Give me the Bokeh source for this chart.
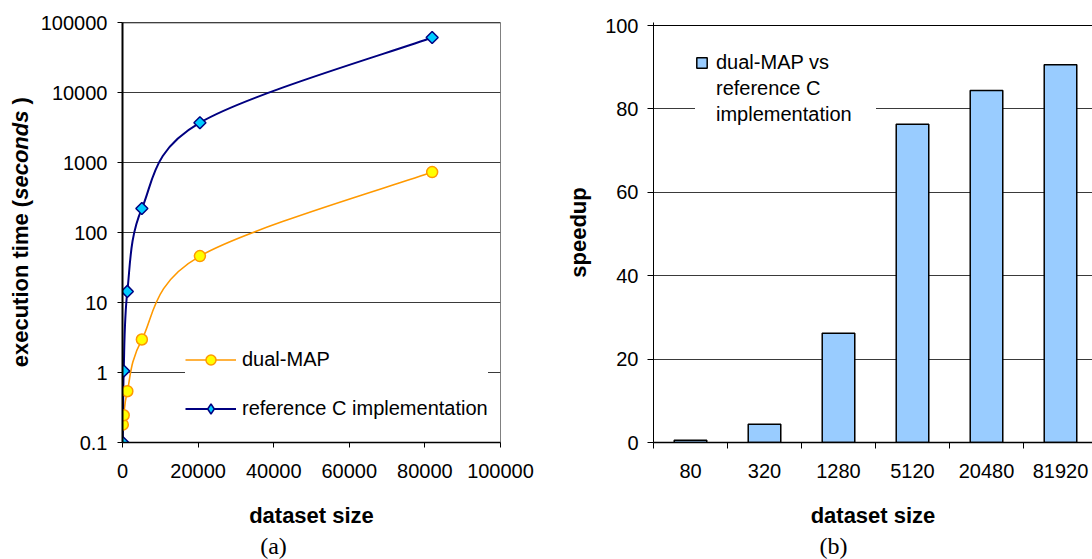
import math
from bokeh.plotting import figure
from bokeh.models import (FixedTicker, Legend, LegendItem, Span, Range1d, Title,
                          ColumnDataSource)
from bokeh.core.properties import value
from bokeh.layouts import row
from bokeh.embed import file_html
from bokeh.resources import INLINE

# ---------------- data ----------------
dataset_size = [80, 320, 1280, 5120, 20480, 81920]
dual_map_time = [0.18, 0.245, 0.54, 2.96, 46, 730]
ref_c_time = [0.1, 1.05, 14.4, 220, 3700, 61000]

speedup_categories = ["80", "320", "1280", "5120", "20480", "81920"]
speedup = [0.55, 4.4, 26.2, 76.3, 84.4, 90.6]

x_ticks_a = [0, 20000, 40000, 60000, 80000, 100000]
x_tick_labels_a = ["0", "20000", "40000", "60000", "80000", "100000"]
y_ticks_a = [0.1, 1, 10, 100, 1000, 10000, 100000]
y_tick_labels_a = ["0.1", "1", "10", "100", "1000", "10000", "100000"]
y_ticks_b = [0, 20, 40, 60, 80, 100]

FONT = "Liberation Sans"
SERIF = "Liberation Serif"
GRID = "#3a3a3a"
H = 559
TOP, BOTTOM = 22, 117
FRAME_H = H - TOP - BOTTOM          # 420 px

# ---------------- y title strip (left) ----------------
W_T = 34
pt = figure(width=W_T, height=H, x_range=Range1d(0, W_T), y_range=Range1d(0, FRAME_H),
            output_backend="svg", toolbar_location=None,
            x_axis_location=None, y_axis_location=None,
            min_border_left=0, min_border_right=0,
            min_border_top=TOP, min_border_bottom=BOTTOM)
pt.outline_line_color = None
pt.grid.visible = False
SEC_Y, SEC_W, MID_X = 242.7, 89.3, 20
for txt, style, yy, align in [("execution time (", "bold", SEC_Y, "right"),
                              ("seconds", "bold italic", SEC_Y, "left"),
                              ("\u00a0)", "bold", SEC_Y + SEC_W, "left")]:
    pt.text(x=[MID_X], y=[yy], text=[txt], angle=math.pi / 2, text_align=align,
            text_baseline="middle", text_font=value(FONT),
            text_font_size=value("22px"), text_font_style=style, text_color="black")

# ---------------- chart (a) ----------------
W_A = 526
LEFT_A = 88
FRAME_W_A = 378
pa = figure(width=W_A, height=H, x_range=Range1d(0, 100000),
            y_range=Range1d(0.1, 100000), y_axis_type="log",
            output_backend="svg", toolbar_location=None,
            min_border_left=LEFT_A, min_border_right=W_A - LEFT_A - FRAME_W_A,
            min_border_top=TOP, min_border_bottom=BOTTOM)
pa.outline_line_color = "#808080"
pa.outline_line_width = 1

ya_ticker = FixedTicker(ticks=y_ticks_a)
pa.yaxis.ticker = ya_ticker
pa.ygrid.ticker = ya_ticker
pa.yaxis.major_label_overrides = {t: l for t, l in zip(y_ticks_a, y_tick_labels_a)}
pa.xaxis.ticker = FixedTicker(ticks=x_ticks_a)
pa.xaxis.major_label_overrides = {t: l for t, l in zip(x_ticks_a, x_tick_labels_a)}
pa.xgrid.visible = False
pa.ygrid.grid_line_color = GRID
pa.ygrid.grid_line_width = 1

for ax in (pa.xaxis[0], pa.yaxis[0]):
    ax.axis_line_color = "black"
    ax.major_tick_line_color = "black"
    ax.major_tick_in = 0
    ax.major_tick_out = 5
    ax.minor_tick_line_color = None
    ax.major_label_text_font = FONT
    ax.major_label_text_font_size = "20px"
    ax.major_label_text_color = "black"
    ax.axis_label_text_font = FONT
    ax.axis_label_text_font_size = "22px"
    ax.axis_label_text_font_style = "bold"
    ax.axis_label_text_color = "black"
pa.yaxis.axis_line_width = 2
pa.xaxis.axis_line_width = 1.5
pa.yaxis.major_label_standoff = 10
pa.xaxis.major_label_standoff = 16
pa.xaxis.axis_label = "dataset size"
pa.xaxis.axis_label_standoff = 22

pa.add_layout(Span(location=100000, dimension="width", line_color="black", line_width=1.5))


def smooth_segments(xs, ys, x_span, px_w, px_dec):
    """Bezier control points (screen-proportional, Excel-like smoothing)."""
    u = [x / x_span * px_w for x in xs]
    v = [math.log10(y) * px_dec for y in ys]
    n = len(u)
    s = dict(x0=[], y0=[], x1=[], y1=[], cx0=[], cy0=[], cx1=[], cy1=[])
    for i in range(n - 1):
        ip, inx = max(i - 1, 0), min(i + 2, n - 1)
        c0u = u[i] + (u[i + 1] - u[ip]) / 6
        c0v = v[i] + (v[i + 1] - v[ip]) / 6
        c1u = u[i + 1] - (u[inx] - u[i]) / 6
        c1v = v[i + 1] - (v[inx] - v[i]) / 6
        s["x0"].append(xs[i]); s["y0"].append(ys[i])
        s["x1"].append(xs[i + 1]); s["y1"].append(ys[i + 1])
        s["cx0"].append(c0u / px_w * x_span); s["cy0"].append(10 ** (c0v / px_dec))
        s["cx1"].append(c1u / px_w * x_span); s["cy1"].append(10 ** (c1v / px_dec))
    return s


DEC_PX = FRAME_H / 6.0
ORANGE, NAVY = "#FF9900", "#000080"
seg_d = smooth_segments(dataset_size, dual_map_time, 100000, FRAME_W_A, DEC_PX)
seg_r = smooth_segments(dataset_size, ref_c_time, 100000, FRAME_W_A, DEC_PX)
dual_curve = pa.bezier(line_color=ORANGE, line_width=1.6, **seg_d)
ref_curve = pa.bezier(line_color=NAVY, line_width=2, **seg_r)

dual_pts = pa.scatter(dataset_size, dual_map_time, marker="circle", size=11,
                      fill_color="#FFFF00", line_color=ORANGE, line_width=1.5)
# diamond drawn under the rotated squares (gives the legend its diamond glyph)
ref_diam = pa.scatter(dataset_size, ref_c_time, marker="diamond", size=9,
                      fill_color="#00CCFF", line_color=NAVY, line_width=1.5)
ref_pts = pa.scatter(dataset_size, ref_c_time, marker="square", angle=math.pi / 4,
                     size=8.5, fill_color="#00CCFF", line_color=NAVY, line_width=1.5)

leg_a = Legend(items=[
    LegendItem(label="dual-MAP", renderers=[dual_curve, dual_pts]),
    LegendItem(label="reference C implementation", renderers=[ref_curve, ref_diam]),
], location=(63, 21), orientation="vertical", glyph_width=51, glyph_height=25,
    label_height=25, spacing=24, padding=0, label_standoff=6, margin=0,
    label_text_font=FONT, label_text_font_size="20px", label_text_color="black",
    background_fill_color="white", background_fill_alpha=1.0, border_line_color=None)
pa.add_layout(leg_a)

pa.add_layout(Title(text="(a)", align="left", offset=137.7, standoff=0,
                    vertical_align="bottom",
                    text_font=SERIF, text_font_size="24px", text_font_style="normal",
                    text_color="black"), "below")

# ---------------- chart (b) ----------------
W_B = 532
CAT_PX = 74
LEFT_B = 93
FRAME_W_B = W_B - LEFT_B
PX_PER_100 = 417           # 100 % line sits 3 px below the frame top
n_cat = len(speedup_categories)
centers = [i + 0.5 for i in range(n_cat)]
bounds = list(range(n_cat + 1))

pb = figure(width=W_B, height=H, x_range=Range1d(0, FRAME_W_B / CAT_PX),
            y_range=Range1d(0, 100 * FRAME_H / PX_PER_100),
            output_backend="svg", toolbar_location=None,
            min_border_left=LEFT_B, min_border_right=0,
            min_border_top=TOP, min_border_bottom=BOTTOM)
pb.outline_line_color = None
pb.xgrid.visible = False
yb_ticker = FixedTicker(ticks=y_ticks_b)
pb.yaxis.ticker = yb_ticker
pb.ygrid.ticker = yb_ticker
pb.ygrid.grid_line_color = GRID
pb.ygrid.grid_line_width = 1
pb.xaxis.ticker = FixedTicker(ticks=centers, minor_ticks=bounds)
pb.xaxis.major_label_overrides = {c: l for c, l in zip(centers, speedup_categories)}

for ax in (pb.xaxis[0], pb.yaxis[0]):
    ax.axis_line_color = "black"
    ax.major_label_text_font = FONT
    ax.major_label_text_font_size = "20px"
    ax.major_label_text_color = "black"
    ax.axis_label_text_font = FONT
    ax.axis_label_text_font_size = "22px"
    ax.axis_label_text_font_style = "bold"
    ax.axis_label_text_color = "black"
pb.yaxis.major_tick_in = 0
pb.yaxis.major_tick_out = 6
pb.yaxis.major_tick_line_color = "black"
pb.yaxis.minor_tick_line_color = None
pb.yaxis.major_label_standoff = 9
pb.yaxis.axis_line_width = 1
pb.yaxis.axis_label = "speedup"
pb.yaxis.axis_label_standoff = 11

pb.xaxis.axis_line_width = 1.5
pb.xaxis.major_tick_in = 0
pb.xaxis.major_tick_out = 0
pb.xaxis.minor_tick_in = 0
pb.xaxis.minor_tick_out = 6
pb.xaxis.minor_tick_line_color = "black"
pb.xaxis.major_label_standoff = 15
pb.xaxis.axis_label = "dataset size"
pb.xaxis.axis_label_standoff = 22

pb.add_layout(Span(location=100, dimension="width", line_color="black", line_width=1))

bar_src = ColumnDataSource(dict(x=centers, top=speedup))
bars = pb.vbar(x="x", top="top", bottom=0, width=0.44, source=bar_src,
               fill_color="#99CCFF", line_color="black", line_width=1.5)

blank_leg = pb.scatter(x=[], y=[], marker="square", fill_alpha=0, line_alpha=0)
leg_b = Legend(items=[
    LegendItem(label="dual-MAP vs", renderers=[bars]),
    LegendItem(label="reference C", renderers=[blank_leg]),
    LegendItem(label="implementation", renderers=[blank_leg]),
], location=(42, 315), orientation="vertical", glyph_width=13, glyph_height=13,
    label_height=26, spacing=0, padding=0, label_standoff=8, label_width=160, margin=0,
    label_text_font=FONT, label_text_font_size="20px", label_text_color="black",
    background_fill_color="white", background_fill_alpha=1.0, border_line_color=None)
pb.add_layout(leg_b)

pb.add_layout(Title(text="(b)", align="left", offset=166, standoff=0,
                    vertical_align="bottom",
                    text_font=SERIF, text_font_size="24px", text_font_style="normal",
                    text_color="black"), "below")

layout = row(pt, pa, pb)
open("out.html", "w").write(file_html(layout, INLINE))
